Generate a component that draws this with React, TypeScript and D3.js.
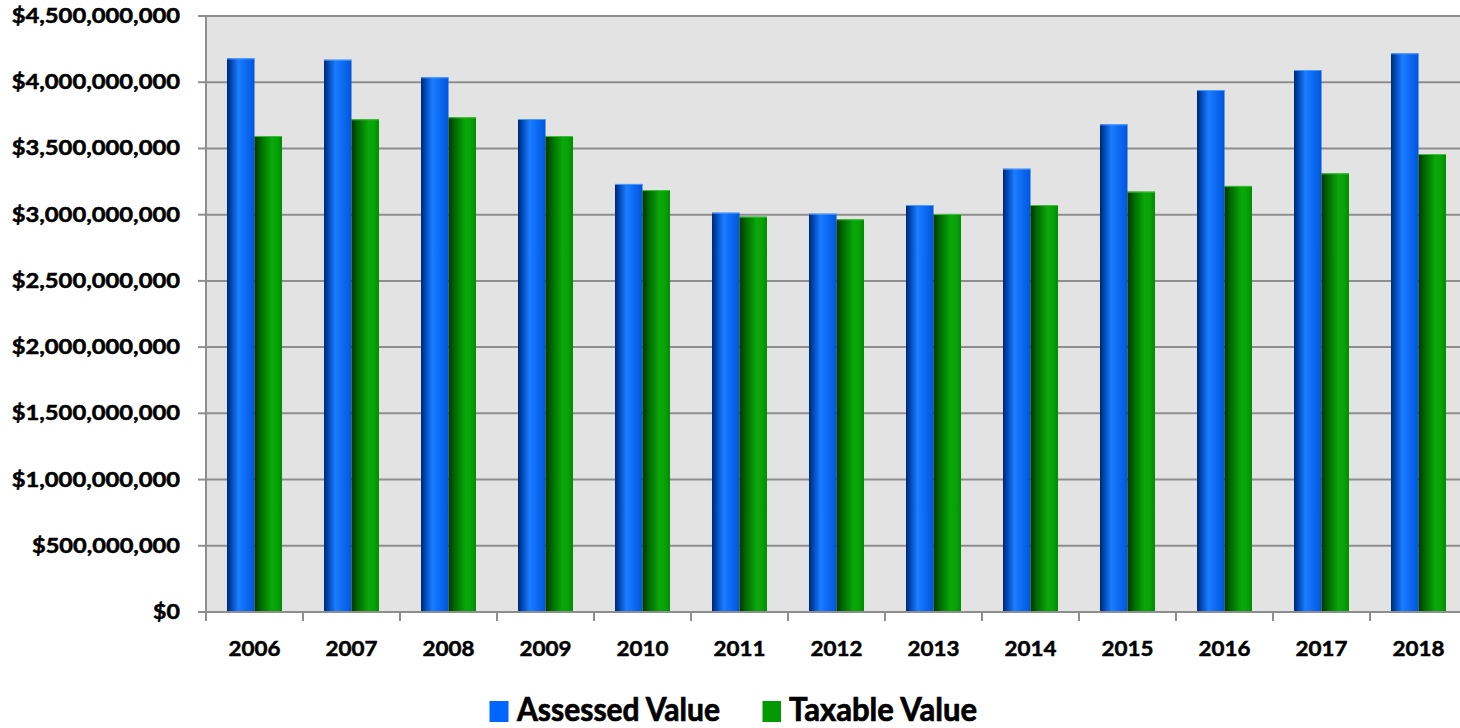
import React from "react";
import * as d3 from "d3";

const years = ["2006","2007","2008","2009","2010","2011","2012","2013","2014","2015","2016","2017","2018"];
const assessed = [4.18e9,4.17e9,4.037e9,3.722e9,3.232e9,3.015e9,3.007e9,3.073e9,3.347e9,3.682e9,3.941e9,4.092e9,4.218e9];
const taxable = [3.594e9,3.72e9,3.735e9,3.594e9,3.186e9,2.985e9,2.965e9,3.005e9,3.073e9,3.174e9,3.217e9,3.312e9,3.458e9];
const seriesNames = ["Assessed Value","Taxable Value"];
const yTicks = [0,5e8,1e9,1.5e9,2e9,2.5e9,3e9,3.5e9,4e9,4.5e9];

const W = 1460, H = 728;
const left = 206, right = 1467, top = 16, bottom = 612;
const FONT = "Lato, 'Open Sans', sans-serif";

function calibriWidth(s: string, em: number) {
  let w = 0;
  for (const c of s) {
    if (c === ",") w += 0.258;
    else if (c === " ") w += 0.226;
    else w += 0.507;
  }
  return w * em;
}

export default function App() {
  const x = d3.scaleBand<string>().domain(years).range([left, right]).paddingInner(0).paddingOuter(0);
  const xi = d3.scaleBand<string>().domain(["a","t"]).range([0, x.bandwidth()]).paddingInner(0).paddingOuter(0.763);
  const y = d3.scaleLinear().domain([0, 4.5e9]).range([bottom, top]);
  const fmt = (v: number) => "$" + d3.format(",")(v);
  const boundaries = years.map((yr) => x(yr)!).concat([right]);

  return (
    <svg width={W} height={H} style={{ position: "absolute", left: 0, top: 0, background: "#fff" }}>
      <defs>
        <linearGradient id="gBlue" x1="0" x2="1" y1="0" y2="0">
          <stop offset="0%" stopColor="#00286a" />
          <stop offset="15%" stopColor="#0046b4" />
          <stop offset="42%" stopColor="#1a7dff" />
          <stop offset="62%" stopColor="#106ef8" />
          <stop offset="100%" stopColor="#0056dc" />
        </linearGradient>
        <linearGradient id="gGreen" x1="0" x2="1" y1="0" y2="0">
          <stop offset="0%" stopColor="#003400" />
          <stop offset="20%" stopColor="#006400" />
          <stop offset="62%" stopColor="#0aa80a" />
          <stop offset="82%" stopColor="#07a207" />
          <stop offset="100%" stopColor="#008c00" />
        </linearGradient>
      </defs>
      <rect x={left} y={top} width={right - left} height={bottom - top} fill="#e3e3e3" />
      {yTicks.map((t) => (
        <g key={t}>
          {t > 0 && <line x1={left} x2={right} y1={y(t)} y2={y(t)} stroke="#8e8e8e" strokeWidth={2} />}
          <line x1={198} x2={left} y1={y(t)} y2={y(t)} stroke="#8e8e8e" strokeWidth={2} />
          <text
            x={180}
            y={y(t) + 7}
            textAnchor="end"
            fontFamily={FONT}
            fontWeight={700}
            fontSize={20}
            stroke="#000"
            strokeWidth={0.5}
            textLength={calibriWidth(fmt(t), 26.5)}
            lengthAdjust="spacingAndGlyphs"
            fill="#000"
          >
            {fmt(t)}
          </text>
        </g>
      ))}
      {years.map((yr, i) => (
        <g key={yr}>
          {[assessed[i], taxable[i]].map((v, j) => {
            const bx = x(yr)! + xi(j === 0 ? "a" : "t")!;
            const bw = xi.bandwidth();
            return (
              <g key={j}>
                <rect x={bx} y={y(v)} width={bw} height={bottom - y(v)} fill={j === 0 ? "url(#gBlue)" : "url(#gGreen)"} />
                <line x1={bx} x2={bx + bw} y1={y(v) + 0.5} y2={y(v) + 0.5} stroke={j === 0 ? "#4d9bff" : "#3cbf3c"} strokeWidth={1} />
              </g>
            );
          })}
          <text
            x={x(yr)! + x.bandwidth() / 2}
            y={656}
            textAnchor="middle"
            fontFamily={FONT}
            fontWeight={700}
            fontSize={21}
            stroke="#000"
            strokeWidth={0.5}
            textLength={calibriWidth(yr, 25.6)}
            lengthAdjust="spacingAndGlyphs"
            fill="#000"
          >
            {yr}
          </text>
        </g>
      ))}
      <line x1={left} x2={left} y1={top} y2={bottom} stroke="#8e8e8e" strokeWidth={2} />
      <line x1={left - 1} x2={right} y1={bottom} y2={bottom} stroke="#8e8e8e" strokeWidth={2} />
      {boundaries.map((b, i) => (
        <line key={i} x1={b} x2={b} y1={bottom} y2={621} stroke="#8e8e8e" strokeWidth={2} />
      ))}
      <g>
        <rect x={489.5} y={701} width={19} height={21} fill="#0066ff" />
        <text x={517} y={721} fontFamily={FONT} fontWeight={700} fontSize={32} stroke="#000" strokeWidth={0.7} textLength={203} lengthAdjust="spacingAndGlyphs" fill="#000">
          {seriesNames[0]}
        </text>
        <rect x={762.5} y={701} width={18.5} height={21} fill="#009900" />
        <text x={789} y={721} fontFamily={FONT} fontWeight={700} fontSize={32} stroke="#000" strokeWidth={0.7} textLength={188} lengthAdjust="spacingAndGlyphs" fill="#000">
          {seriesNames[1]}
        </text>
      </g>
    </svg>
  );
}
